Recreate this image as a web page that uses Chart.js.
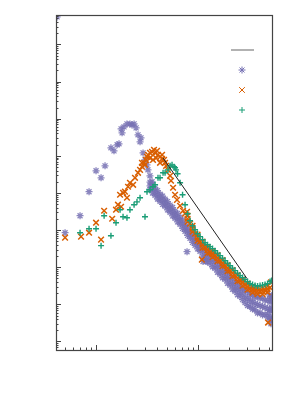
<!DOCTYPE html>
<html>
<head>
<meta charset="UTF-8">
<title>Spectrum</title>
<script src="https://cdn.jsdelivr.net/npm/chart.js"></script>
<style>
  html, body { margin: 0; padding: 0; background: #fff; }
</style>
</head>
<body>
<canvas id="spec" width="300" height="400"></canvas>
<script>
// purple (*) series
const purpleX = [0.415, 0.497, 0.697, 0.854, 1.0, 1.12, 1.225, 1.40, 1.50, 1.61, 1.68, 1.76, 1.80, 1.88, 2.01, 2.15, 2.25, 2.36, 2.47, 2.58, 2.70, 2.76, 2.89, 3.02, 3.16, 3.23, 3.38, 3.54,
  7.80, 11.2, 12.0,
  3.383, 3.788, 4.242, 4.749, 5.317, 5.953, 6.665, 7.458, 8.348, 9.345, 10.46, 11.71, 13.11, 14.68, 16.43, 18.40, 20.59, 23.05, 25.81, 28.90, 32.35, 36.22, 40.54, 45.39, 50.81,
  3.383, 3.788, 4.242, 4.749, 5.317, 5.953, 6.665, 7.458, 8.348, 9.345, 10.46, 11.71, 13.11, 14.68, 16.43, 18.40, 20.59, 23.05, 25.81, 28.90, 32.35, 36.22, 40.54, 45.39, 50.81,
  3.383, 3.788, 4.242, 4.749, 5.317, 5.953, 6.665, 7.458, 8.348, 9.345, 10.46, 11.71, 13.11, 14.68, 16.43, 18.40, 20.59, 23.05, 25.81, 28.90, 32.35, 36.22, 40.54, 45.39, 50.81,
  3.58, 4.01, 4.49, 5.02, 5.63, 6.30, 7.05, 7.89, 8.83, 9.89, 11.07, 12.39, 13.87, 15.53, 17.38, 19.47, 21.78, 24.39, 27.31, 30.58, 34.23, 38.32, 42.89, 48.02,
  3.58, 4.01, 4.49, 5.02, 5.63, 6.30, 7.05, 7.89, 8.83, 9.89, 11.07, 12.39, 13.87, 15.53, 17.38, 19.47, 21.78, 24.39, 27.31, 30.58, 34.23, 38.32, 42.89, 48.02,
  3.58, 4.01, 4.49, 5.02, 5.63, 6.30, 7.05, 7.89, 8.83, 9.89, 11.07, 12.39, 13.87, 15.53, 17.38, 19.47, 21.78, 24.39, 27.31, 30.58, 34.23, 38.32, 42.89, 48.02,
  51.9, 50.5, 52.4, 51.5, 49.2, 52.5, 50.0, 52.6, 52.6, 52.6];
const purpleY = [5.5e8, 850, 2440, 10800, 39500, 25600, 53700, 164000, 136000, 198000, 210000, 532000, 415000, 602000, 725000, 725000, 681000, 725000, 566000, 367000, 238000, 305000, 120000, 78000, 57100, 41900, 29000, 20000,
  262, 143, 143,
  15600, 10800, 7430, 5450, 3760, 2590, 1790, 1160, 752, 488, 337, 232, 170, 125, 86.2, 63.3, 43.6, 30.1, 22.1, 16.2, 12.7, 10.5, 9.28, 8.20, 7.25,
  19500, 13500, 9280, 6810, 4700, 3240, 2240, 1450, 938, 609, 420, 312, 229, 168, 116, 85.0, 58.5, 40.5, 29.7, 23.5, 18.3, 15.2, 14.5, 12.8, 11.3,
  12500, 8620, 5950, 4360, 3010, 2080, 1430, 928, 602, 390, 269, 172, 127, 92.8, 64.0, 47.0, 32.4, 22.4, 16.4, 11.2, 8.73, 7.25, 5.95, 5.26, 4.64,
  16800, 11600, 8240, 5850, 4050, 2790, 1870, 1210, 785, 526, 395, 281, 206, 147, 104, 74.3, 51.2, 36.4, 26.7, 22.1, 17.8, 16.6, 14.7, 13.0,
  13000, 8940, 6350, 4520, 3120, 2150, 1440, 933, 606, 405, 279, 199, 146, 104, 73.8, 52.6, 36.2, 25.8, 18.9, 14.3, 11.5, 9.88, 8.73, 7.71,
  10000, 6880, 4910, 3490, 2410, 1660, 1110, 720, 467, 312, 198, 141, 103, 73.4, 52.1, 37.1, 25.6, 18.2, 13.4, 9.28, 7.50, 5.85, 5.19, 4.58,
  3.0, 3.8, 12.5, 16, 6, 7, 18, 16, 8, 4];

// orange (x) series
const orangeX = [0.497, 0.713, 0.854, 1.0, 1.12, 1.20, 1.44, 1.57, 1.64, 1.76, 1.72, 1.84, 1.92, 2.01, 2.06, 2.15, 2.31, 2.41, 2.58, 2.70, 2.82, 2.96, 3.09, 3.16, 3.23, 3.38, 3.54, 3.70, 3.79, 3.96, 4.05, 4.24, 4.44, 4.44, 4.64, 4.75, 4.86, 5.08, 5.32, 5.43, 5.69, 5.95, 6.22, 6.67, 7.13,
  3.38, 3.62, 3.88, 3.02, 2.82, 4.24,
  7.458, 8.348, 9.345, 10.46, 11.71, 13.11, 14.68, 16.43, 18.40, 20.59, 23.05, 25.81, 28.90, 32.35, 36.22, 40.54, 45.39, 50.81,
  7.89, 8.83, 9.89, 11.07, 12.39, 13.87, 15.53, 17.38, 19.47, 21.78, 24.39, 27.31, 30.58, 34.23, 38.32, 42.89, 48.02,
  7.89, 8.83, 9.89, 11.07, 12.39, 13.87, 15.53, 17.38, 19.47, 21.78, 24.39, 27.31, 30.58, 34.23, 38.32, 42.89, 48.02,
  7.89, 8.83, 9.89, 11.07, 12.39, 13.87, 15.53, 17.38, 19.47, 21.78, 24.39, 27.31, 30.58, 34.23, 38.32, 42.89, 48.02,
  48.6, 51.9, 10.9, 7.80];
const orangeY = [625, 666, 850, 1580, 553, 3320, 2020, 3540, 4820, 4250, 8940, 10100, 10800, 7430, 14700, 18800, 16600, 25600, 34900, 41900, 50800, 64900, 78000, 93800, 106000, 120000, 128000, 145000, 120000, 136000, 106000, 93800, 106000, 83100, 78000, 64900, 53700, 41900, 29000, 21300, 13800, 8940, 6530, 4520, 3320,
  87200, 78000, 87200, 57100, 64900, 64900,
  2760, 1490, 800, 488, 337, 247, 205, 150, 110, 81.2, 59.5, 43.6, 34.0, 26.6, 23.5, 22.1, 23.5, 28.3,
  2440, 1310, 752, 488, 347, 271, 212, 155, 114, 83.6, 61.3, 46.4, 36.2, 30.1, 27.4, 27.4, 31.0,
  2020, 1090, 625, 405, 288, 225, 176, 129, 94.4, 69.3, 50.9, 39.2, 30.1, 25.0, 22.7, 22.7, 25.8,
  1680, 906, 518, 337, 239, 187, 146, 107, 78.5, 57.7, 42.3, 32.0, 25.0, 20.8, 18.9, 18.9, 21.4,
  3.24, 39.2, 160, 3120];

// green (+) series
const greenX = [0.697, 0.854, 1.0, 1.12, 1.20, 1.40, 1.57, 1.72, 1.84, 2.01, 2.15, 2.36, 2.52, 2.70, 3.02, 3.16, 3.38, 3.62, 3.79, 4.05, 4.24, 4.54, 4.75, 5.08, 5.32, 5.56, 5.82, 6.08,
  5.95, 6.30, 6.67, 7.05, 7.46, 7.89, 8.35, 8.83, 9.35, 9.89, 10.46, 11.07, 11.71, 12.39, 13.11, 13.87, 14.68, 15.53, 16.43, 17.38, 18.40, 19.47, 20.59, 21.78, 23.05, 24.39, 25.81, 27.31, 28.90, 30.58, 32.35, 34.23, 36.22, 38.32, 40.54, 42.89, 45.39, 48.02, 50.81, 52.6];
const greenY = [850, 1090, 1090, 381, 2440, 706, 1580, 3540, 2290, 2150, 3540, 4800, 5770, 7430, 2290, 10800, 12200, 14700, 16600, 25600, 25600, 34900, 34900, 41900, 53700, 57100, 50800, 41900,
  47600, 32800, 18800, 8940, 4800, 2760, 1790, 1310, 1020, 800, 666, 553, 458, 405, 358, 317, 279, 239, 205, 176, 150, 129, 110, 94.4, 81.2, 69.3, 59.5, 52.6, 46.4, 41.0, 36.2, 34.0, 32.0, 31.0, 32.0, 33.0, 34.0, 36.2, 41.0, 43.6];

// power-law guide line
const fitX = [4.54, 30.2];
const fitY = [87200, 49.4];

const xRange = [0.405, 53.1];
const yRange = [0.59, 6.2e8];

const purple = '#7570b3', orange = '#d95f02', green = '#1b9e77';

function pts(xs, ys) {
  return xs.map((x, i) => ({x: x, y: ys[i]}));
}

// inward log ticks, frame and the text-less legend
const frame = {
  id: 'frame',
  afterDatasetsDraw(chart) {
    const ctx = chart.ctx, a = chart.chartArea;
    const xs = chart.scales.x, ys = chart.scales.y;
    ctx.save();
    ctx.strokeStyle = '#444';
    ctx.lineWidth = 1;
    function logTicks(lo, hi) {
      const out = [];
      for (let e = Math.floor(Math.log10(lo)); e <= Math.ceil(Math.log10(hi)); e++) {
        for (let k = 1; k <= 9; k++) {
          const v = k * Math.pow(10, e);
          if (v >= lo && v <= hi) out.push({v: v, major: k === 1});
        }
      }
      return out;
    }
    ctx.beginPath();
    logTicks(yRange[0], yRange[1]).forEach(t => {
      const p = Math.round(ys.getPixelForValue(t.v)) + 0.5;
      ctx.moveTo(a.left, p);
      ctx.lineTo(a.left + (t.major ? 5 : 2.5), p);
    });
    logTicks(xRange[0], xRange[1]).forEach(t => {
      const p = Math.round(xs.getPixelForValue(t.v)) + 0.5;
      ctx.moveTo(p, a.bottom);
      ctx.lineTo(p, a.bottom - (t.major ? 5 : 2.5));
    });
    ctx.stroke();
    ctx.lineWidth = 1.2;
    ctx.strokeRect(Math.round(a.left) + 0.5, Math.round(a.top) + 0.5, Math.round(a.right - a.left), Math.round(a.bottom - a.top));

    // legend handles, no labels
    const lx = a.right - 30;
    ctx.strokeStyle = '#999';
    ctx.lineWidth = 1.5;
    ctx.beginPath();
    ctx.moveTo(lx - 11, a.top + 35);
    ctx.lineTo(lx + 12, a.top + 35);
    ctx.stroke();
    const marks = [[purple, 'star', 3.5], [orange, 'crossRot', 4], [green, 'cross', 3]];
    marks.forEach((m, i) => {
      ctx.strokeStyle = m[0];
      ctx.fillStyle = m[0];
      ctx.lineWidth = 1;
      Chart.helpers.drawPoint(ctx, {pointStyle: m[1], radius: m[2], rotation: 0, borderWidth: 1}, lx, a.top + 55 + i * 20);
    });
    ctx.restore();
  }
};

const ctx = document.getElementById('spec').getContext('2d');
new Chart(ctx, {
  type: 'scatter',
  data: {
    datasets: [
      {
        type: 'line',
        data: pts(fitX, fitY),
        borderColor: '#222',
        borderWidth: 1,
        pointRadius: 0,
        fill: false,
        order: 0
      },
      {
        data: pts(greenX, greenY),
        pointStyle: 'cross',
        pointRadius: 3,
        borderWidth: 1.4,
        borderColor: green,
        backgroundColor: green,
        order: 1
      },
      {
        data: pts(orangeX, orangeY),
        pointStyle: 'crossRot',
        pointRadius: 4,
        borderWidth: 1.5,
        borderColor: orange,
        backgroundColor: orange,
        order: 2
      },
      {
        data: pts(purpleX, purpleY),
        pointStyle: 'star',
        pointRadius: 3.5,
        borderWidth: 1.3,
        borderColor: 'rgba(117,112,179,0.85)',
        backgroundColor: purple,
        order: 3
      }
    ]
  },
  options: {
    responsive: false,
    animation: false,
    layout: { padding: { left: 56, top: 15, right: 28, bottom: 50 } },
    plugins: { legend: { display: false }, tooltip: { enabled: false } },
    scales: {
      x: { type: 'logarithmic', min: xRange[0], max: xRange[1], display: false },
      y: { type: 'logarithmic', min: yRange[0], max: yRange[1], display: false }
    }
  },
  plugins: [frame]
});
</script>
</body>
</html>
